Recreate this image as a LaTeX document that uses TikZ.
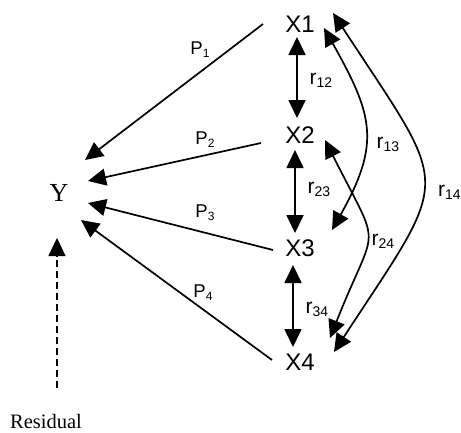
\documentclass[tikz,border=0pt]{standalone}
\usepackage{fontspec}
\setmainfont{Liberation Serif}
\newfontfamily\arialf{Liberation Sans}
\usetikzlibrary{arrows.meta}
\newcommand\psub[1]{\raisebox{-3pt}{\fontsize{12}{13}\selectfont #1}}
\newcommand\rsub[1]{\raisebox{-3pt}{\fontsize{14}{15}\selectfont #1}}
\begin{document}
\begin{tikzpicture}[x=1pt,y=-1pt,
  xlbl/.style={font=\arialf\fontsize{24}{26}\selectfont, inner sep=0pt},
  plbl/.style={font=\arialf\fontsize{18.5}{20}\selectfont, inner sep=0pt},
  rlbl/.style={font=\arialf\fontsize{21}{22}\selectfont, inner sep=0pt},
  conn/.style={line width=1.7pt, -{Triangle[length=18pt,width=17pt]}},
  dconn/.style={line width=1.7pt, {Triangle[length=18pt,width=17pt]}-{Triangle[length=18pt,width=17pt]}},
  resid/.style={line width=1.2pt, dash pattern=on 7pt off 4pt, -{Triangle[length=18pt,width=17pt]}}
]
\useasboundingbox[fill=white] (0,0) rectangle (461,432);

% nodes
\node[xlbl] (X1) at (300,24) {X1};
\node[xlbl] (X2) at (300,135) {X2};
\node[xlbl] (X3) at (300,248) {X3};
\node[xlbl] (X4) at (300,362) {X4};
\node[font=\fontsize{26}{28}\selectfont, inner sep=0pt] (Y) at (59,193) {Y};
\node[font=\fontsize{20.5}{22}\selectfont, inner sep=0pt] (R) at (46,421) {Residual};

% paths to Y
\draw[conn] ([shift={(-37,0)}]X1.center) -- ([shift={(26,-33)}]Y.center);
\draw[conn] ([shift={(-39,8)}]X2.center) -- ([shift={(29,-12)}]Y.center);
\draw[conn] ([shift={(-27,2)}]X3.center) -- ([shift={(29,10)}]Y.center);
\draw[conn] ([shift={(-28,-2)}]X4.center) -- ([shift={(22,27)}]Y.center);
\draw[resid] ([shift={(11,-33)}]R.center) -- ([shift={(-2,45)}]Y.center);

% correlations between neighbours
\draw[dconn] ([shift={(-3,13)}]X1.center) -- ([shift={(-3,-17)}]X2.center);
\draw[dconn] ([shift={(-5,15)}]X2.center) -- ([shift={(-5,-15)}]X3.center);
\draw[dconn] ([shift={(-7,17)}]X3.center) -- ([shift={(-7,-15)}]X4.center);

% curved correlations
\draw[dconn] ([shift={(24,4)}]X1.center) .. controls +(49,87) and +(49,-87) .. ([shift={(32,-18)}]X3.center);
\draw[dconn] ([shift={(25,5)}]X2.center) .. controls +(58,115) and +(47,-119) .. ([shift={(30,-24)}]X4.center);
\draw[dconn] ([shift={(33,-11)}]X1.center) .. controls +(119,182) and +(119,-182) .. ([shift={(34,-10)}]X4.center);

% labels
\node[plbl] (p1) at (200,50) {P\psub{1}};
\node[plbl] (p2) at (205,140) {P\psub{2}};
\node[plbl] (p3) at (205,213) {P\psub{3}};
\node[plbl] (p4) at (203,293) {P\psub{4}};
\node[rlbl] (r12) at (321,80) {r\rsub{12}};
\node[rlbl] (r23) at (319,189) {r\rsub{23}};
\node[rlbl] (r34) at (317,309) {r\rsub{34}};
\node[rlbl] (r13) at (388,144) {r\rsub{13}};
\node[rlbl] (r24) at (383,241) {r\rsub{24}};
\node[rlbl, anchor=west] (r14) at (438,192) {r\rsub{14}};
\end{tikzpicture}
\end{document}
